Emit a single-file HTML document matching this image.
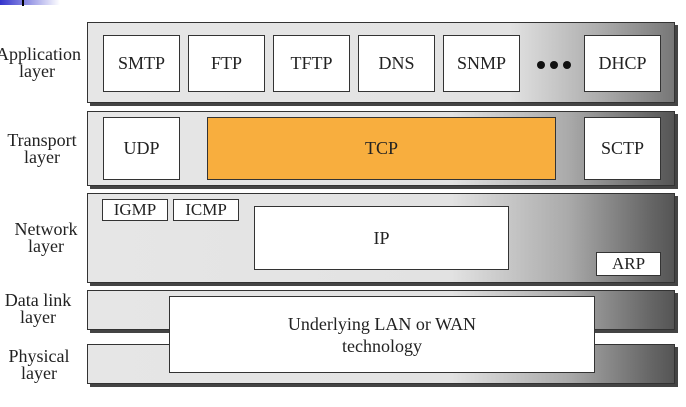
<!DOCTYPE html>
<html><head><style>
body{margin:0;width:686px;height:407px;background:#fff;position:relative;overflow:hidden;font-family:"Liberation Serif","DejaVu Serif","Times New Roman",serif;color:#222}
.l{position:absolute;left:87px;width:588px;border:1.5px solid #333;box-shadow:3px 3px 0 #444;box-sizing:border-box;background:linear-gradient(to right,#e6e6e6 0%,#e2e2e2 62%,#aaa 82%,#666 96%,#555 100%)}
.b{position:absolute;background:#fff;border:1.5px solid #333;box-sizing:border-box;display:flex;align-items:center;justify-content:center;font-size:18px;text-align:center}
.t{position:absolute;width:82px;text-align:center;font-size:18px;line-height:17px}
.d{position:absolute;top:61px;width:8px;height:8px;border-radius:50%;background:#111}
</style></head><body>
<div style="position:absolute;left:0;top:0;width:60px;height:5px;background:linear-gradient(to right,#3333cc,#fff)"></div>
<div style="position:absolute;left:22px;top:0;width:2px;height:6px;background:#000"></div>

<div class="l" style="top:22px;height:81px;background:linear-gradient(to right,#e6e6e6 0%,#e2e2e2 72%,#aaa 88%,#777 100%)"></div>
<div class="l" style="top:111px;height:75px"></div>
<div class="l" style="top:193px;height:90px"></div>
<div class="l" style="top:290px;height:40px"></div>
<div class="l" style="top:344px;height:40px"></div>

<div class="t" style="left:-4px;top:46px">Application<br>layer</div>
<div class="t" style="left:1px;top:132px">Transport<br>layer</div>
<div class="t" style="left:5px;top:221px">Network<br>layer</div>
<div class="t" style="left:-3px;top:292px">Data link<br>layer</div>
<div class="t" style="left:-2px;top:348px">Physical<br>layer</div>

<div class="b" style="left:103px;top:35px;width:77px;height:57px">SMTP</div>
<div class="b" style="left:188px;top:35px;width:77px;height:57px">FTP</div>
<div class="b" style="left:273px;top:35px;width:77px;height:57px">TFTP</div>
<div class="b" style="left:358px;top:35px;width:77px;height:57px">DNS</div>
<div class="b" style="left:443px;top:35px;width:77px;height:57px">SNMP</div>
<div class="d" style="left:537px"></div>
<div class="d" style="left:550px"></div>
<div class="d" style="left:563px"></div>
<div class="b" style="left:584px;top:35px;width:77px;height:57px">DHCP</div>

<div class="b" style="left:103px;top:117px;width:77px;height:63px">UDP</div>
<div class="b" style="left:207px;top:117px;width:349px;height:63px;background:#f8ae3e">TCP</div>
<div class="b" style="left:584px;top:117px;width:77px;height:63px">SCTP</div>

<div class="b" style="left:102px;top:199px;width:66px;height:22px;font-size:17px">IGMP</div>
<div class="b" style="left:173px;top:199px;width:66px;height:22px;font-size:17px">ICMP</div>
<div class="b" style="left:254px;top:206px;width:255px;height:64px">IP</div>
<div class="b" style="left:596px;top:252px;width:65px;height:24px;font-size:17px">ARP</div>

<div class="b" style="left:169px;top:296px;width:426px;height:77px;line-height:22px">Underlying LAN or WAN<br>technology</div>
</body></html>
